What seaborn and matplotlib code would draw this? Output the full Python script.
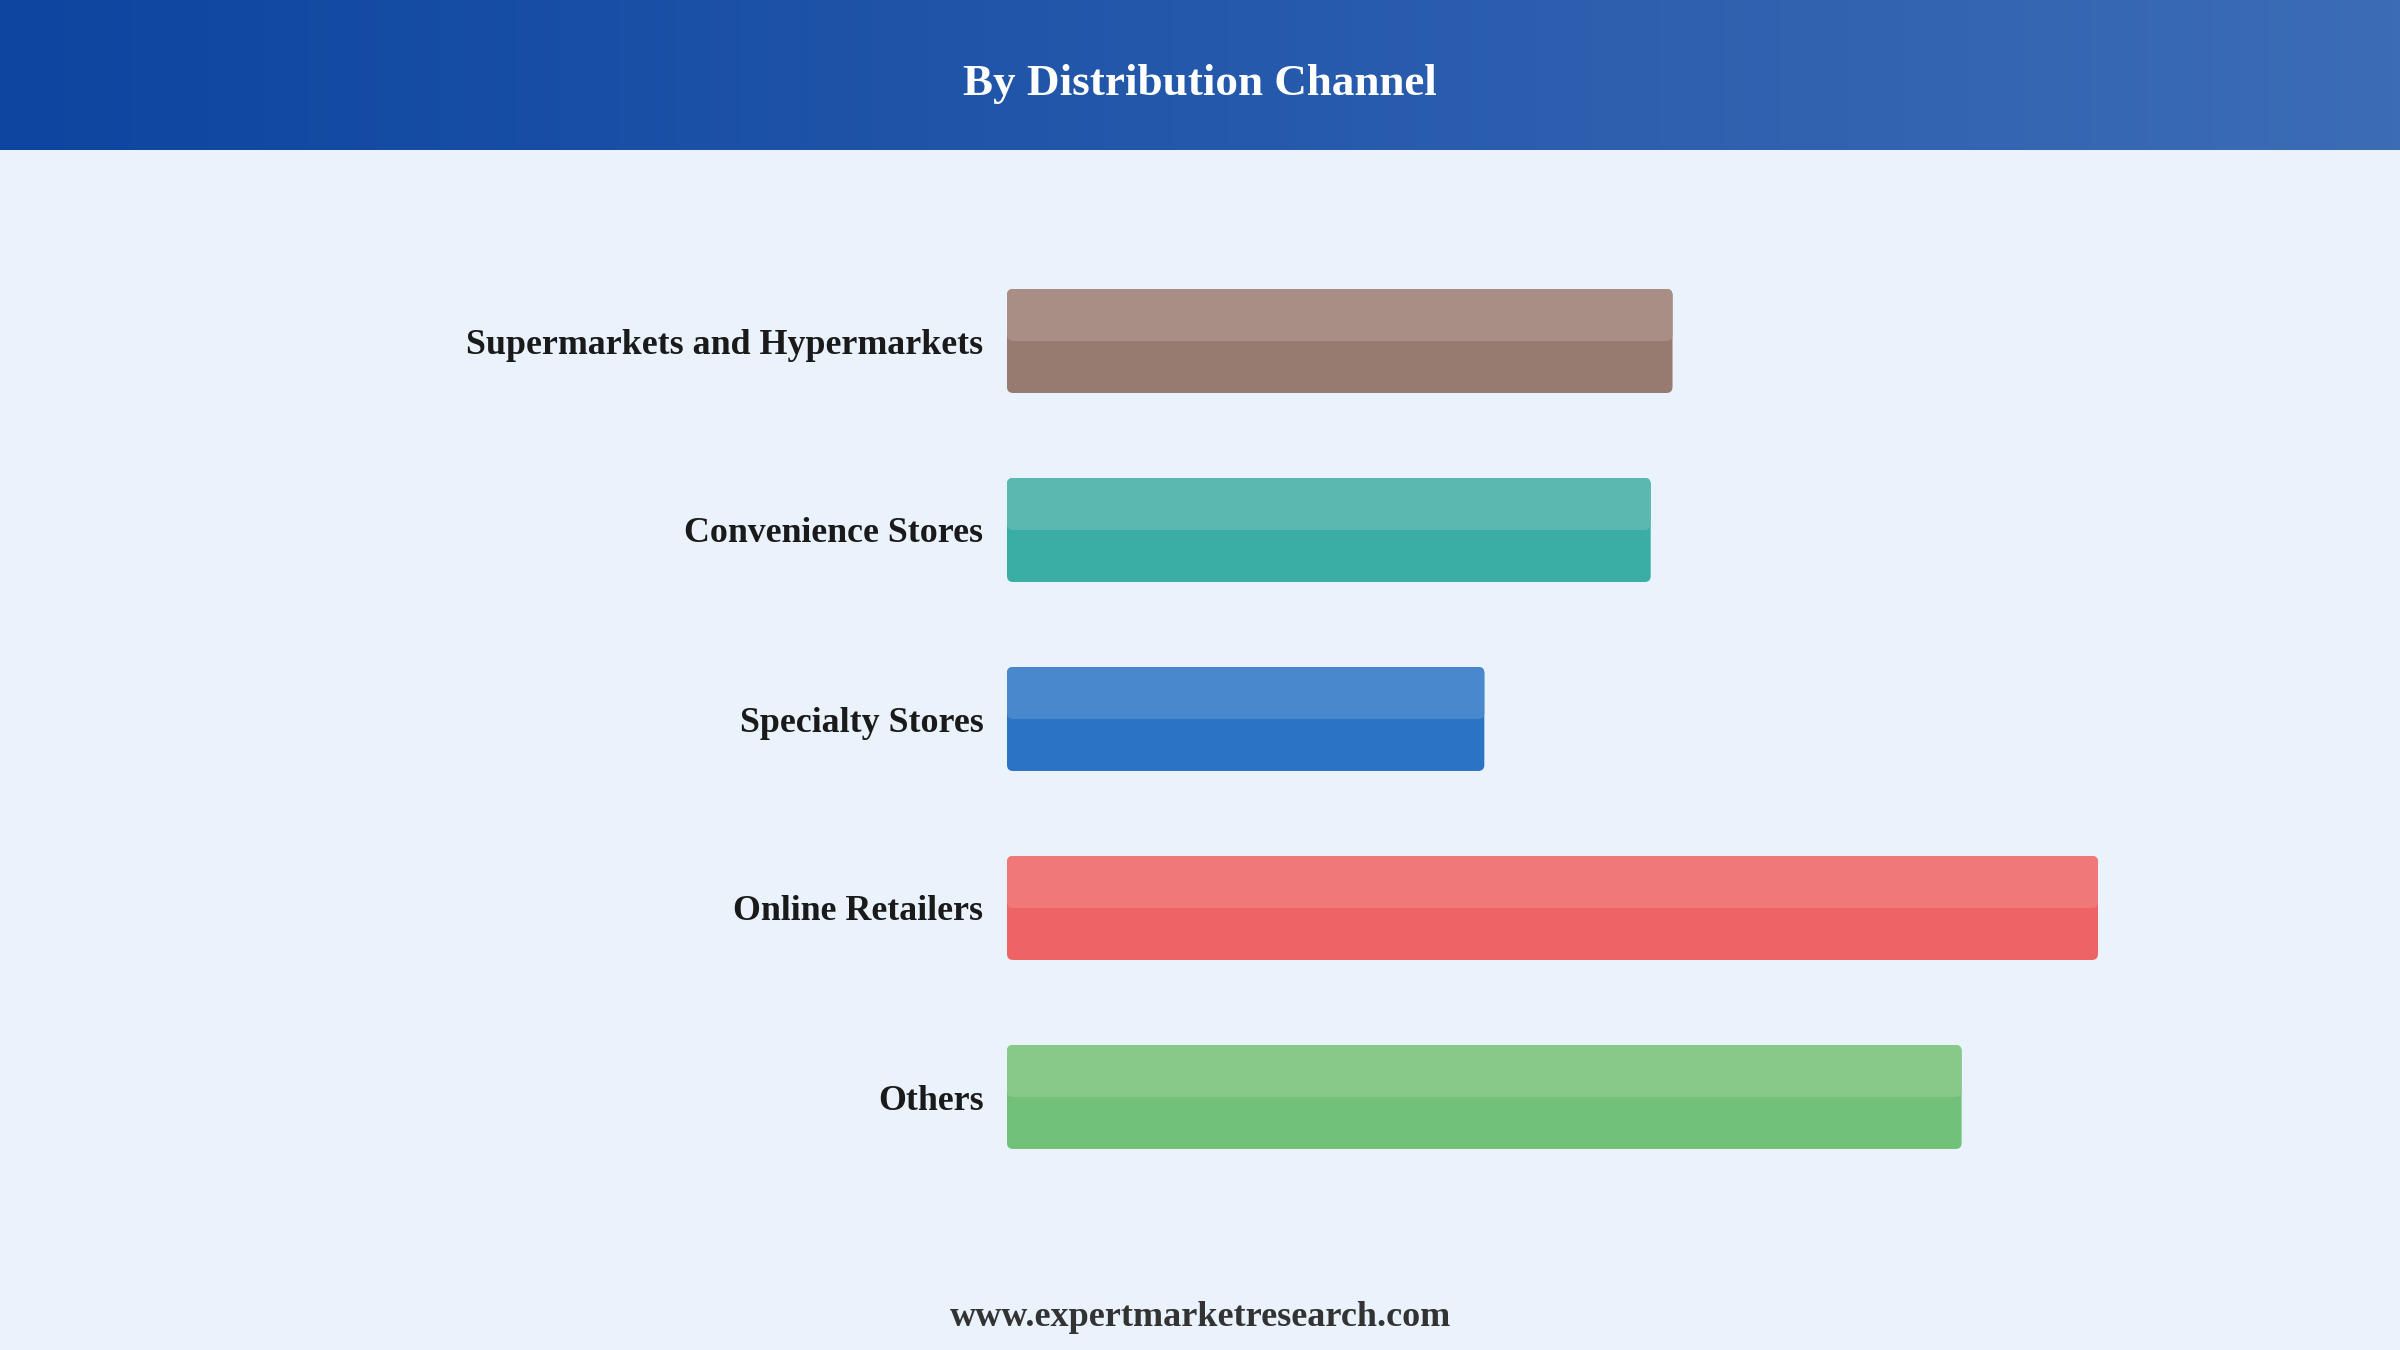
import matplotlib.pyplot as plt
import numpy as np
import pandas as pd
import seaborn as sns
from matplotlib.colors import LinearSegmentedColormap
from matplotlib.patches import FancyBboxPatch

# data
channels = [
    "Supermarkets and Hypermarkets",
    "Convenience Stores",
    "Specialty Stores",
    "Online Retailers",
    "Others",
]
shares = [24.4, 23.6, 17.5, 40.0, 35.0]
base_colors = ["#977A70", "#3AADA5", "#2B74C5", "#EE6363", "#72C178"]
light_colors = ["#A88E85", "#5AB8B0", "#4A88CE", "#F07878", "#88C98A"]

BG = "#EAF2FC"
W, H = 2400, 1350

sns.set_theme(style="white")
plt.rcParams["font.family"] = ["Liberation Serif", "DejaVu Serif"]

fig = plt.figure(figsize=(24, 13.5), dpi=100)
fig.patch.set_facecolor(BG)

# header band with horizontal gradient
hdr = fig.add_axes([0, 1 - 150 / H, 1, 150 / H])
grad = np.linspace(0, 1, 256).reshape(1, -1)
cmap = LinearSegmentedColormap.from_list("hdr", ["#0D45A0", "#3C6CB6"])
hdr.imshow(grad, aspect="auto", cmap=cmap, extent=[0, 1, 0, 1])
hdr.set_axis_off()
fig.text(0.5, 1 - 84 / H, "By Distribution Channel", ha="center", va="center",
         color="white", fontsize=32.5, fontweight="bold")

# main bar axes
x0_px, x1_px = 1007, 2200
top_px, bot_px = 246.5, 1191.5
ax = fig.add_axes([x0_px / W, 1 - bot_px / H, (x1_px - x0_px) / W, (bot_px - top_px) / H])
ax.set_facecolor(BG)

df = pd.DataFrame({"channel": channels, "share": shares})
sns.barplot(data=df, x="share", y="channel", hue="channel", palette=base_colors,
            legend=False, width=0.55, ax=ax)

xmax = 40.0 * (x1_px - x0_px) / (2098 - x0_px)
ax.set_xlim(0, xmax)
ax.set_ylim(4.5, -0.5)

x_per_px = xmax / (x1_px - x0_px)
y_per_px = 5.0 / (bot_px - top_px)
aspect = y_per_px / x_per_px
radius = 6 * x_per_px

for patch, base, light in zip(list(ax.patches), base_colors, light_colors):
    x, y = patch.get_x(), patch.get_y()
    w, h = patch.get_width(), patch.get_height()
    patch.set_visible(False)
    full = FancyBboxPatch((x, y), w, h,
                          boxstyle=f"round,pad=0,rounding_size={radius}",
                          mutation_aspect=aspect, facecolor=base, edgecolor="none")
    ax.add_patch(full)
    # top half is lighter (y axis is inverted, so top = smaller y)
    top = FancyBboxPatch((x, y), w, h / 2,
                         boxstyle=f"round,pad=0,rounding_size={radius}",
                         mutation_aspect=aspect, facecolor=light, edgecolor="none")
    ax.add_patch(top)

ax.set_xlabel("")
ax.set_ylabel("")
ax.set_xticks([])
ax.tick_params(axis="y", length=0, pad=17)
for lbl in ax.get_yticklabels():
    lbl.set_fontsize(25.8)
    lbl.set_fontweight("bold")
    lbl.set_color("#1A1A1A")
sns.despine(ax=ax, left=True, bottom=True)

fig.text(0.5, 1 - 1317 / H, "www.expertmarketresearch.com", ha="center", va="center",
         color="#333333", fontsize=26, fontweight="bold")

fig.savefig("out.png", dpi=100, facecolor=BG)
